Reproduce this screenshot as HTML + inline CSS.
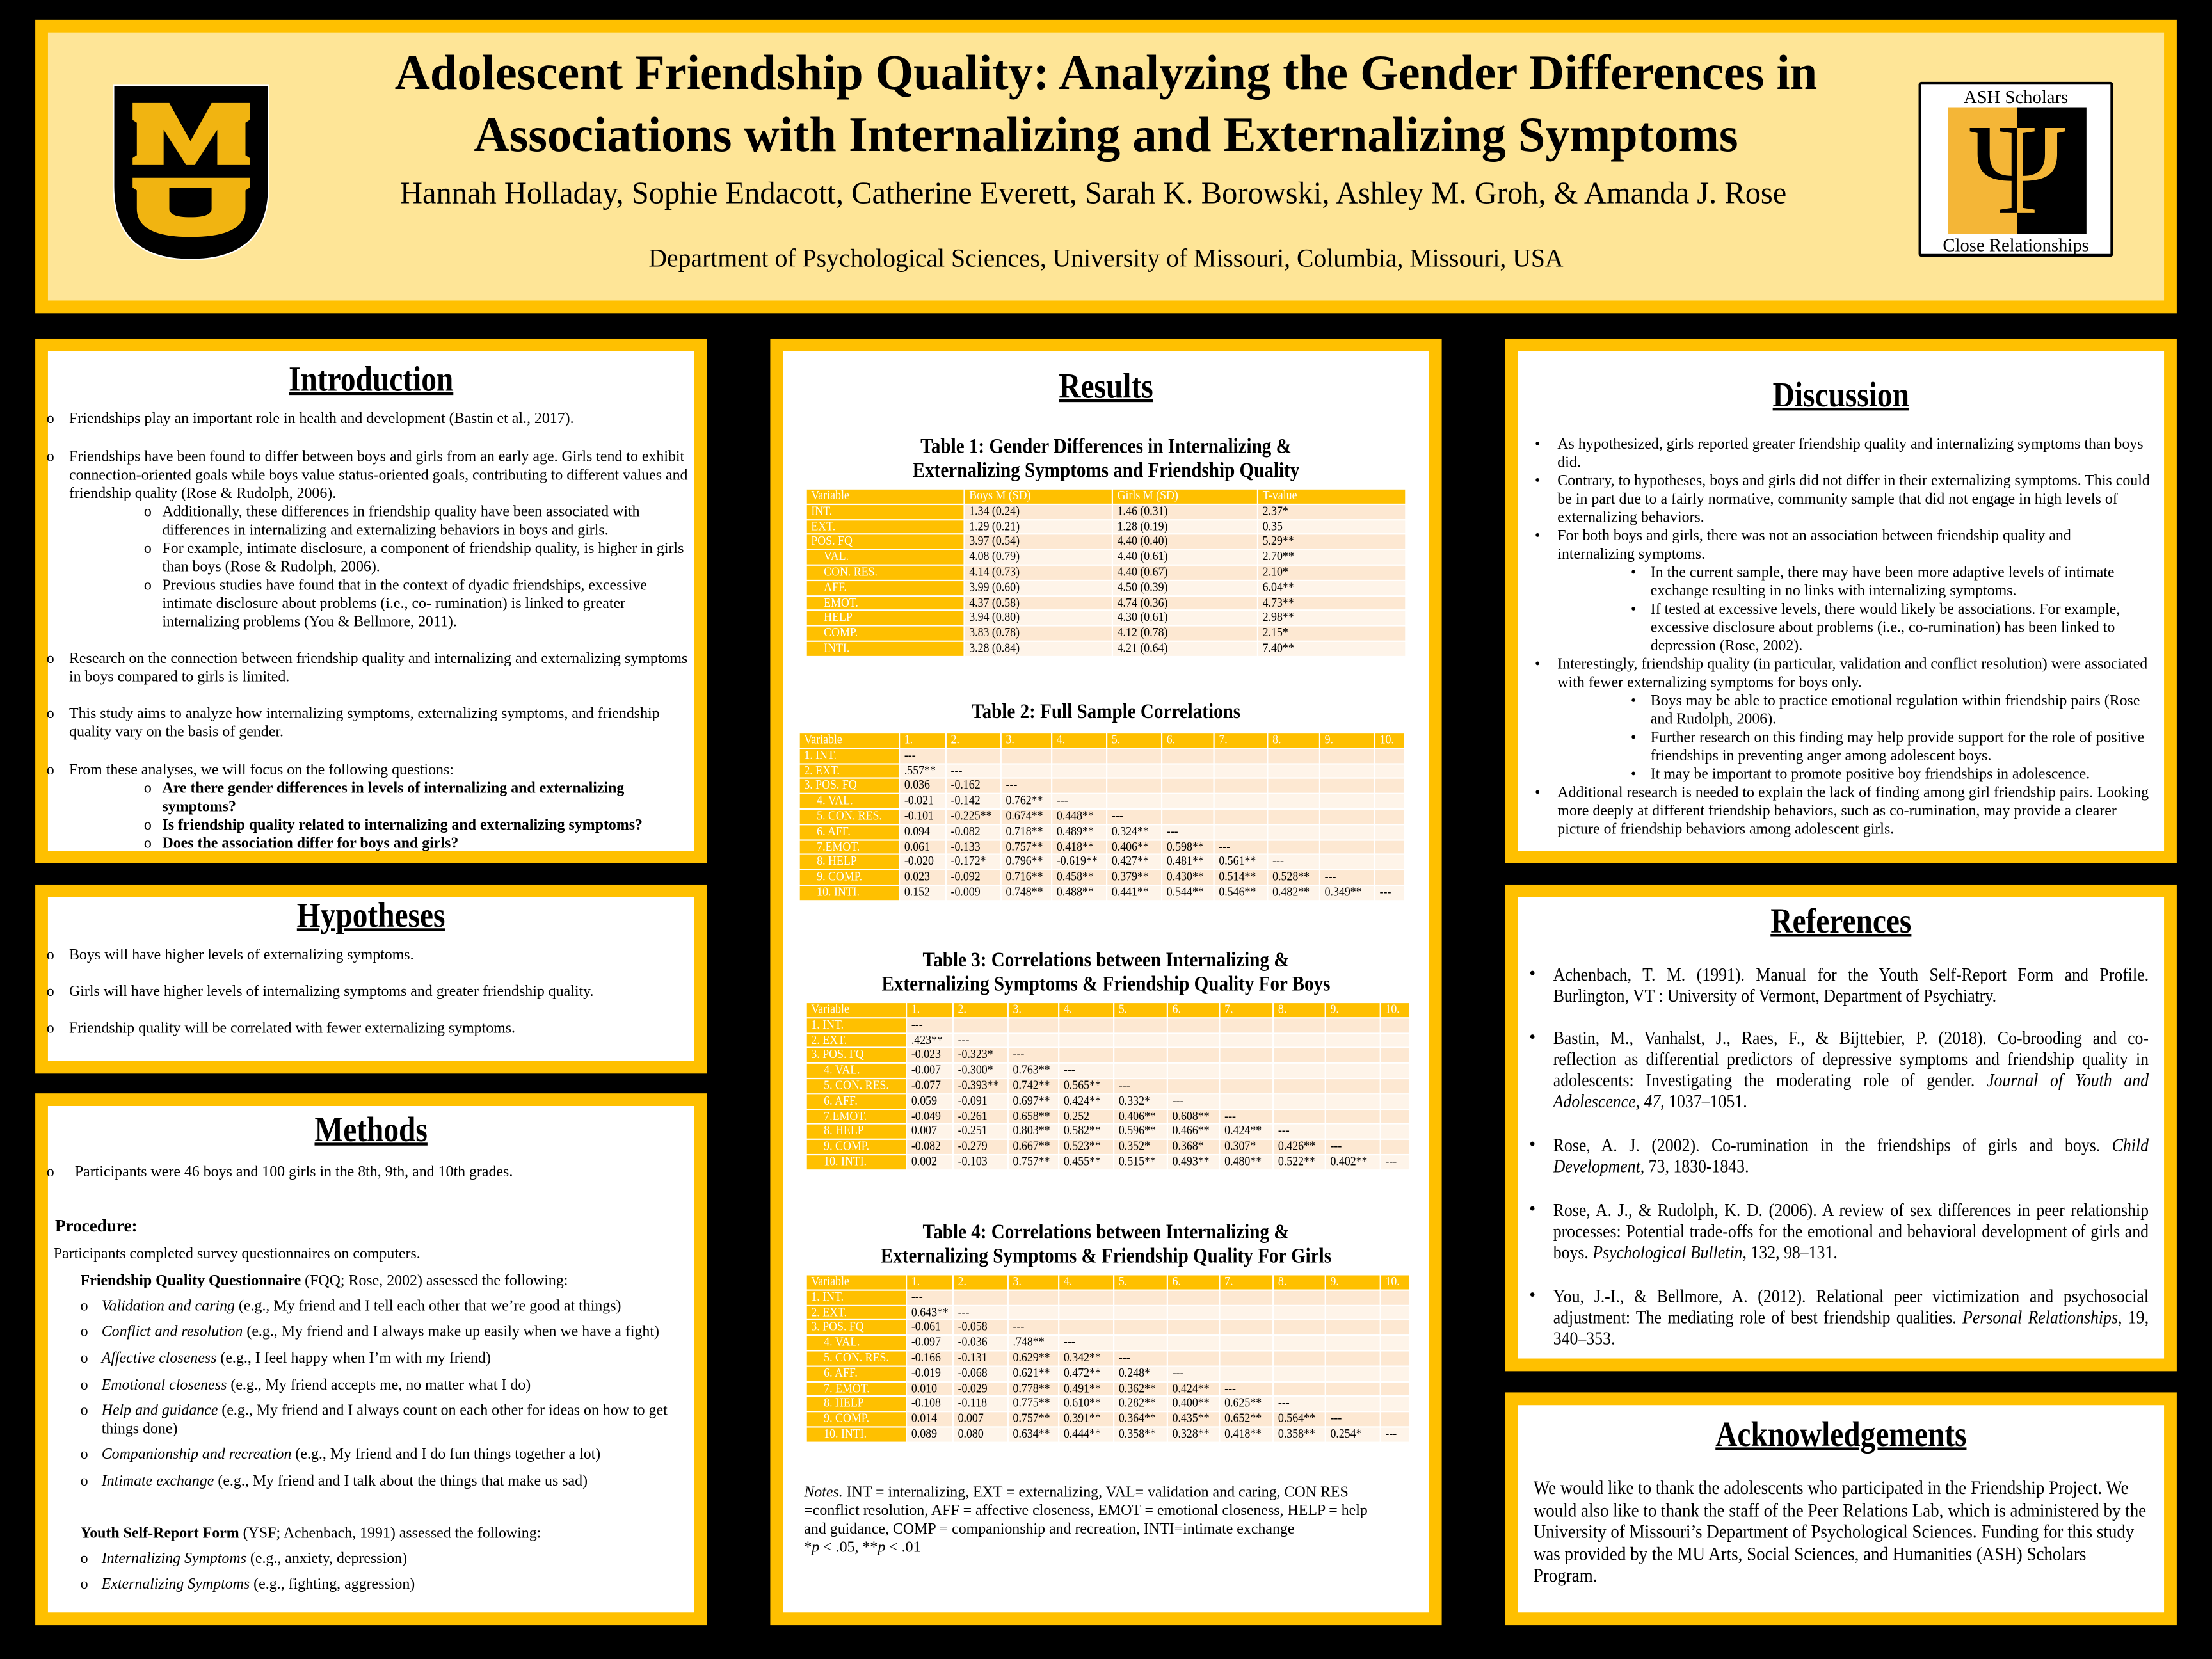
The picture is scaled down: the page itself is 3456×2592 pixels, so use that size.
<!DOCTYPE html>
<html><head><meta charset="utf-8">
<style>
html,body{margin:0;padding:0;background:#000;}
body{width:3456px;height:2592px;overflow:hidden;position:relative;}
#w{position:absolute;left:0;top:0;width:1568px;height:1176px;transform:scale(2.20408);transform-origin:0 0;font-family:"Liberation Serif",serif;color:#000;}
.box{position:absolute;background:#FFC000;}
.in{position:absolute;left:9px;top:9px;right:9px;bottom:9px;background:#fff;}
.l{position:absolute;white-space:nowrap;font-size:11px;line-height:13px;transform:scaleX(.985);transform-origin:0 50%;}
.c{position:absolute;white-space:nowrap;text-align:center;transform-origin:50% 50%;}
.h{font-size:25px;font-weight:bold;text-decoration:underline;text-decoration-thickness:2px;transform:scaleX(.86);line-height:28px;}
.tt{font-size:15px;font-weight:bold;transform:scaleX(.88);line-height:17px;}
table{position:absolute;border-collapse:separate;border-spacing:1px;table-layout:fixed;font-size:9px;}
td{padding:0 0 0 3px;height:9.8px;line-height:9.8px;white-space:nowrap;overflow:hidden;}
td span{display:inline-block;transform:scaleX(.9);transform-origin:0 50%;}
tr.hd td{background:#FFC000;color:#fff;}
td.v{background:#FFC000;color:#fff;}
tr.a td{background:#FDE8D2;}
tr.b td{background:#FEF4E9;}
tr.a td.v,tr.b td.v{background:#FFC000;}
.ind{padding-left:12px;}
.ref{position:absolute;font-size:13px;line-height:15px;text-align:justify;transform:scaleX(.9);transform-origin:0 0;}
</style></head><body><div id="w">

<!-- HEADER -->
<div class="box" style="left:25px;top:14px;width:1518px;height:208px;"><div class="in" style="background:#FEE597;"></div></div>
<svg style="position:absolute;left:80px;top:60px" width="111" height="125" viewBox="0 0 111 125">
<path d="M0.5 0.5 H110.5 V72 Q110.5 124 55.5 124 Q0.5 124 0.5 72 Z" fill="#000" stroke="#fff" stroke-width="1"/>
<path d="M14 13 H40 L55 40 L70 13 H97 V25 L94 27 V50 L97 52 V57 H74 V32 L58 57 H52 L36 32 V57 H14 V52 L17 50 V27 L14 25 Z" fill="#F1B411"/>
<path fill-rule="evenodd" d="M14 66 H97 V73 L94 75 V88 Q94 108 55 108 Q17 108 17 88 V75 L14 73 Z M40 73 V88 Q40 94 55 94 Q70 94 70 88 V73 Z" fill="#F1B411"/>
</svg>
<div class="c" style="left:0;width:1568px;top:32px;font-size:35px;font-weight:bold;line-height:40px;transform:scaleX(.99);">Adolescent Friendship Quality: Analyzing the Gender Differences in</div>
<div class="c" style="left:0;width:1568px;top:76px;font-size:35px;font-weight:bold;line-height:40px;transform:scaleX(.99);">Associations with Internalizing and Externalizing Symptoms</div>
<div class="c" style="left:0;width:1550px;top:124px;font-size:22px;line-height:26px;">Hannah Holladay, Sophie Endacott, Catherine Everett, Sarah K. Borowski, Ashley M. Groh, &amp; Amanda J. Rose</div>
<div class="c" style="left:0;width:1568px;top:172px;font-size:18px;line-height:22px;">Department of Psychological Sciences, University of Missouri, Columbia, Missouri, USA</div>
<!-- ASH logo -->
<div style="position:absolute;left:1360px;top:58px;width:138px;height:124px;background:#fff;border:2px solid #000;border-radius:2px;box-sizing:border-box;">
  <div class="c" style="left:0;width:134px;top:1px;font-size:13px;line-height:15px;">ASH Scholars</div>
  <div style="position:absolute;left:19px;top:16px;width:49px;height:90px;background:#F4B637;overflow:hidden;"><div style="position:absolute;left:0;top:-6px;width:98px;text-align:center;font-size:92px;line-height:100px;color:#000;">Ψ</div></div>
  <div style="position:absolute;left:68px;top:16px;width:49px;height:90px;background:#000;overflow:hidden;"><div style="position:absolute;left:-49px;top:-6px;width:98px;text-align:center;font-size:92px;line-height:100px;color:#F4B637;">Ψ</div></div>
  <div class="c" style="left:0;width:134px;top:106px;font-size:13px;line-height:15px;">Close Relationships</div>
</div>

<!-- LEFT COLUMN -->
<div class="box" style="left:25px;top:240px;width:476px;height:372px;"><div class="in"></div></div>
<div class="box" style="left:25px;top:627px;width:476px;height:134px;"><div class="in"></div></div>
<div class="box" style="left:25px;top:775px;width:476px;height:377px;"><div class="in"></div></div>
<!-- MIDDLE -->
<div class="box" style="left:546px;top:240px;width:476px;height:912px;"><div class="in"></div></div>
<!-- RIGHT -->
<div class="box" style="left:1067px;top:240px;width:476px;height:372px;"><div class="in"></div></div>
<div class="box" style="left:1067px;top:627px;width:476px;height:345px;"><div class="in"></div></div>
<div class="box" style="left:1067px;top:987px;width:476px;height:165px;"><div class="in"></div></div>

<!-- Introduction -->
<div class="c h" style="left:25px;width:476px;top:256px;">Introduction</div>
<div class="l" style="left:33px;top:291px">o</div><div class="l" style="left:49px;top:291px">Friendships play an important role in health and development (Bastin et al., 2017).</div>
<div class="l" style="left:33px;top:318px">o</div>
<div class="l" style="left:49px;top:318px">Friendships have been found to differ between boys and girls from an early age. Girls tend to exhibit</div>
<div class="l" style="left:49px;top:331px">connection-oriented goals while boys value status-oriented goals, contributing to different values and</div>
<div class="l" style="left:49px;top:344px">friendship quality (Rose &amp; Rudolph, 2006).</div>
<div class="l" style="left:102px;top:357px">o</div><div class="l" style="left:115px;top:357px">Additionally, these differences in friendship quality have been associated with</div>
<div class="l" style="left:115px;top:370px">differences in internalizing and externalizing behaviors in boys and girls.</div>
<div class="l" style="left:102px;top:383px">o</div><div class="l" style="left:115px;top:383px">For example, intimate disclosure, a component of friendship quality, is higher in girls</div>
<div class="l" style="left:115px;top:396px">than boys (Rose &amp; Rudolph, 2006).</div>
<div class="l" style="left:102px;top:409px">o</div><div class="l" style="left:115px;top:409px">Previous studies have found that in the context of dyadic friendships, excessive</div>
<div class="l" style="left:115px;top:422px">intimate disclosure about problems (i.e., co- rumination) is linked to greater</div>
<div class="l" style="left:115px;top:435px">internalizing problems (You &amp; Bellmore, 2011).</div>
<div class="l" style="left:33px;top:461px">o</div><div class="l" style="left:49px;top:461px">Research on the connection between friendship quality and internalizing and externalizing symptoms</div>
<div class="l" style="left:49px;top:474px">in boys compared to girls is limited.</div>
<div class="l" style="left:33px;top:500px">o</div><div class="l" style="left:49px;top:500px">This study aims to analyze how internalizing symptoms, externalizing symptoms, and friendship</div>
<div class="l" style="left:49px;top:513px">quality vary on the basis of gender.</div>
<div class="l" style="left:33px;top:540px">o</div><div class="l" style="left:49px;top:540px">From these analyses, we will focus on the following questions:</div>
<div class="l" style="left:102px;top:553px">o</div><div class="l" style="left:115px;top:553px;font-weight:bold">Are there gender differences in levels of internalizing and externalizing</div>
<div class="l" style="left:115px;top:566px;font-weight:bold">symptoms?</div>
<div class="l" style="left:102px;top:579px">o</div><div class="l" style="left:115px;top:579px;font-weight:bold">Is friendship quality related to internalizing and externalizing symptoms?</div>
<div class="l" style="left:102px;top:592px">o</div><div class="l" style="left:115px;top:592px;font-weight:bold">Does the association differ for boys and girls?</div>

<!-- Hypotheses -->
<div class="c h" style="left:25px;width:476px;top:636px;">Hypotheses</div>
<div class="l" style="left:33px;top:671px">o</div><div class="l" style="left:49px;top:671px">Boys will have higher levels of externalizing symptoms.</div>
<div class="l" style="left:33px;top:697px">o</div><div class="l" style="left:49px;top:697px">Girls will have higher levels of internalizing symptoms and greater friendship quality.</div>
<div class="l" style="left:33px;top:723px">o</div><div class="l" style="left:49px;top:723px">Friendship quality will be correlated with fewer externalizing symptoms.</div>

<!-- Methods -->
<div class="c h" style="left:25px;width:476px;top:788px;">Methods</div>
<div class="l" style="left:33px;top:825px">o</div><div class="l" style="left:53px;top:825px">Participants were 46 boys and 100 girls in the 8th, 9th, and 10th grades.</div>
<div class="l" style="left:39px;top:863px;font-weight:bold;font-size:12.5px">Procedure:</div>
<div class="l" style="left:38px;top:883px">Participants completed survey questionnaires on computers.</div>
<div class="l" style="left:57px;top:902px"><b>Friendship Quality Questionnaire</b> (FQQ; Rose, 2002) assessed the following:</div>
<div class="l" style="left:57px;top:920px">o</div><div class="l" style="left:72px;top:920px"><i>Validation and caring</i> (e.g., My friend and I tell each other that we’re good at things)</div>
<div class="l" style="left:57px;top:938px">o</div><div class="l" style="left:72px;top:938px"><i>Conflict and resolution</i> (e.g., My friend and I always make up easily when we have a fight)</div>
<div class="l" style="left:57px;top:957px">o</div><div class="l" style="left:72px;top:957px"><i>Affective closeness</i> (e.g., I feel happy when I’m with my friend)</div>
<div class="l" style="left:57px;top:976px">o</div><div class="l" style="left:72px;top:976px"><i>Emotional closeness</i> (e.g., My friend accepts me, no matter what I do)</div>
<div class="l" style="left:57px;top:994px">o</div><div class="l" style="left:72px;top:994px"><i>Help and guidance</i> (e.g., My friend and I always count on each other for ideas on how to get</div>
<div class="l" style="left:72px;top:1007px">things done)</div>
<div class="l" style="left:57px;top:1025px">o</div><div class="l" style="left:72px;top:1025px"><i>Companionship and recreation</i> (e.g., My friend and I do fun things together a lot)</div>
<div class="l" style="left:57px;top:1044px">o</div><div class="l" style="left:72px;top:1044px"><i>Intimate exchange</i> (e.g., My friend and I talk about the things that make us sad)</div>
<div class="l" style="left:57px;top:1081px"><b>Youth Self-Report Form</b> (YSF; Achenbach, 1991) assessed the following:</div>
<div class="l" style="left:57px;top:1099px">o</div><div class="l" style="left:72px;top:1099px"><i>Internalizing Symptoms</i> (e.g., anxiety, depression)</div>
<div class="l" style="left:57px;top:1117px">o</div><div class="l" style="left:72px;top:1117px"><i>Externalizing Symptoms</i> (e.g., fighting, aggression)</div>

<!-- Results -->
<div class="c h" style="left:546px;width:476px;top:261px;">Results</div>
<div class="c tt" style="left:546px;width:476px;top:309px;">Table 1: Gender Differences in Internalizing &amp;</div>
<div class="c tt" style="left:546px;width:476px;top:326px;">Externalizing Symptoms and Friendship Quality</div>
<table style="left:571px;top:346px;width:426px;">
<colgroup><col style="width:111px"><col style="width:104px"><col style="width:102px"><col style="width:104px"></colgroup>
<tr class="hd"><td><span>Variable</span></td><td><span>Boys M (SD)</span></td><td><span>Girls M (SD)</span></td><td><span>T-value</span></td></tr>
<tr class="a"><td class="v"><span>INT.</span></td><td><span>1.34 (0.24)</span></td><td><span>1.46 (0.31)</span></td><td><span>2.37*</span></td></tr>
<tr class="b"><td class="v"><span>EXT.</span></td><td><span>1.29 (0.21)</span></td><td><span>1.28 (0.19)</span></td><td><span>0.35</span></td></tr>
<tr class="a"><td class="v"><span>POS. FQ</span></td><td><span>3.97 (0.54)</span></td><td><span>4.40 (0.40)</span></td><td><span>5.29**</span></td></tr>
<tr class="b"><td class="v ind"><span>VAL.</span></td><td><span>4.08 (0.79)</span></td><td><span>4.40 (0.61)</span></td><td><span>2.70**</span></td></tr>
<tr class="a"><td class="v ind"><span>CON. RES.</span></td><td><span>4.14 (0.73)</span></td><td><span>4.40 (0.67)</span></td><td><span>2.10*</span></td></tr>
<tr class="b"><td class="v ind"><span>AFF.</span></td><td><span>3.99 (0.60)</span></td><td><span>4.50 (0.39)</span></td><td><span>6.04**</span></td></tr>
<tr class="a"><td class="v ind"><span>EMOT.</span></td><td><span>4.37 (0.58)</span></td><td><span>4.74 (0.36)</span></td><td><span>4.73**</span></td></tr>
<tr class="b"><td class="v ind"><span>HELP</span></td><td><span>3.94 (0.80)</span></td><td><span>4.30 (0.61)</span></td><td><span>2.98**</span></td></tr>
<tr class="a"><td class="v ind"><span>COMP.</span></td><td><span>3.83 (0.78)</span></td><td><span>4.12 (0.78)</span></td><td><span>2.15*</span></td></tr>
<tr class="b"><td class="v ind"><span>INTI.</span></td><td><span>3.28 (0.84)</span></td><td><span>4.21 (0.64)</span></td><td><span>7.40**</span></td></tr>
</table>

<div class="c tt" style="left:546px;width:476px;top:497px;">Table 2: Full Sample Correlations</div>
<table style="left:566px;top:519px;width:430px;">
<colgroup><col style="width:70px"><col style="width:32px"><col style="width:38px"><col style="width:35px"><col style="width:38px"><col style="width:37px"><col style="width:36px"><col style="width:37px"><col style="width:36px"><col style="width:38px"><col style="width:20px"></colgroup>
<tr class="hd"><td><span>Variable</span></td><td><span>1.</span></td><td><span>2.</span></td><td><span>3.</span></td><td><span>4.</span></td><td><span>5.</span></td><td><span>6.</span></td><td><span>7.</span></td><td><span>8.</span></td><td><span>9.</span></td><td><span>10.</span></td></tr>
<tr class="a"><td class="v"><span>1. INT.</span></td><td><span>---</span></td><td></td><td></td><td></td><td></td><td></td><td></td><td></td><td></td><td></td></tr>
<tr class="b"><td class="v"><span>2. EXT.</span></td><td><span>.557**</span></td><td><span>---</span></td><td></td><td></td><td></td><td></td><td></td><td></td><td></td><td></td></tr>
<tr class="a"><td class="v"><span>3. POS. FQ</span></td><td><span>0.036</span></td><td><span>-0.162</span></td><td><span>---</span></td><td></td><td></td><td></td><td></td><td></td><td></td><td></td></tr>
<tr class="b"><td class="v ind"><span>4. VAL.</span></td><td><span>-0.021</span></td><td><span>-0.142</span></td><td><span>0.762**</span></td><td><span>---</span></td><td></td><td></td><td></td><td></td><td></td><td></td></tr>
<tr class="a"><td class="v ind"><span>5. CON. RES.</span></td><td><span>-0.101</span></td><td><span>-0.225**</span></td><td><span>0.674**</span></td><td><span>0.448**</span></td><td><span>---</span></td><td></td><td></td><td></td><td></td><td></td></tr>
<tr class="b"><td class="v ind"><span>6. AFF.</span></td><td><span>0.094</span></td><td><span>-0.082</span></td><td><span>0.718**</span></td><td><span>0.489**</span></td><td><span>0.324**</span></td><td><span>---</span></td><td></td><td></td><td></td><td></td></tr>
<tr class="a"><td class="v ind"><span>7.EMOT.</span></td><td><span>0.061</span></td><td><span>-0.133</span></td><td><span>0.757**</span></td><td><span>0.418**</span></td><td><span>0.406**</span></td><td><span>0.598**</span></td><td><span>---</span></td><td></td><td></td><td></td></tr>
<tr class="b"><td class="v ind"><span>8. HELP</span></td><td><span>-0.020</span></td><td><span>-0.172*</span></td><td><span>0.796**</span></td><td><span>-0.619**</span></td><td><span>0.427**</span></td><td><span>0.481**</span></td><td><span>0.561**</span></td><td><span>---</span></td><td></td><td></td></tr>
<tr class="a"><td class="v ind"><span>9. COMP.</span></td><td><span>0.023</span></td><td><span>-0.092</span></td><td><span>0.716**</span></td><td><span>0.458**</span></td><td><span>0.379**</span></td><td><span>0.430**</span></td><td><span>0.514**</span></td><td><span>0.528**</span></td><td><span>---</span></td><td></td></tr>
<tr class="b"><td class="v ind"><span>10. INTI.</span></td><td><span>0.152</span></td><td><span>-0.009</span></td><td><span>0.748**</span></td><td><span>0.488**</span></td><td><span>0.441**</span></td><td><span>0.544**</span></td><td><span>0.546**</span></td><td><span>0.482**</span></td><td><span>0.349**</span></td><td><span>---</span></td></tr>
</table>

<div class="c tt" style="left:546px;width:476px;top:673px;">Table 3: Correlations between Internalizing &amp;</div>
<div class="c tt" style="left:546px;width:476px;top:690px;">Externalizing Symptoms &amp; Friendship Quality For Boys</div>
<table style="left:571px;top:710px;width:427px;">
<colgroup><col style="width:70px"><col style="width:32px"><col style="width:38px"><col style="width:35px"><col style="width:38px"><col style="width:37px"><col style="width:36px"><col style="width:37px"><col style="width:36px"><col style="width:38px"><col style="width:20px"></colgroup>
<tr class="hd"><td><span>Variable</span></td><td><span>1.</span></td><td><span>2.</span></td><td><span>3.</span></td><td><span>4.</span></td><td><span>5.</span></td><td><span>6.</span></td><td><span>7.</span></td><td><span>8.</span></td><td><span>9.</span></td><td><span>10.</span></td></tr>
<tr class="a"><td class="v"><span>1. INT.</span></td><td><span>---</span></td><td></td><td></td><td></td><td></td><td></td><td></td><td></td><td></td><td></td></tr>
<tr class="b"><td class="v"><span>2. EXT.</span></td><td><span>.423**</span></td><td><span>---</span></td><td></td><td></td><td></td><td></td><td></td><td></td><td></td><td></td></tr>
<tr class="a"><td class="v"><span>3. POS. FQ</span></td><td><span>-0.023</span></td><td><span>-0.323*</span></td><td><span>---</span></td><td></td><td></td><td></td><td></td><td></td><td></td><td></td></tr>
<tr class="b"><td class="v ind"><span>4. VAL.</span></td><td><span>-0.007</span></td><td><span>-0.300*</span></td><td><span>0.763**</span></td><td><span>---</span></td><td></td><td></td><td></td><td></td><td></td><td></td></tr>
<tr class="a"><td class="v ind"><span>5. CON. RES.</span></td><td><span>-0.077</span></td><td><span>-0.393**</span></td><td><span>0.742**</span></td><td><span>0.565**</span></td><td><span>---</span></td><td></td><td></td><td></td><td></td><td></td></tr>
<tr class="b"><td class="v ind"><span>6. AFF.</span></td><td><span>0.059</span></td><td><span>-0.091</span></td><td><span>0.697**</span></td><td><span>0.424**</span></td><td><span>0.332*</span></td><td><span>---</span></td><td></td><td></td><td></td><td></td></tr>
<tr class="a"><td class="v ind"><span>7.EMOT.</span></td><td><span>-0.049</span></td><td><span>-0.261</span></td><td><span>0.658**</span></td><td><span>0.252</span></td><td><span>0.406**</span></td><td><span>0.608**</span></td><td><span>---</span></td><td></td><td></td><td></td></tr>
<tr class="b"><td class="v ind"><span>8. HELP</span></td><td><span>0.007</span></td><td><span>-0.251</span></td><td><span>0.803**</span></td><td><span>0.582**</span></td><td><span>0.596**</span></td><td><span>0.466**</span></td><td><span>0.424**</span></td><td><span>---</span></td><td></td><td></td></tr>
<tr class="a"><td class="v ind"><span>9. COMP.</span></td><td><span>-0.082</span></td><td><span>-0.279</span></td><td><span>0.667**</span></td><td><span>0.523**</span></td><td><span>0.352*</span></td><td><span>0.368*</span></td><td><span>0.307*</span></td><td><span>0.426**</span></td><td><span>---</span></td><td></td></tr>
<tr class="b"><td class="v ind"><span>10. INTI.</span></td><td><span>0.002</span></td><td><span>-0.103</span></td><td><span>0.757**</span></td><td><span>0.455**</span></td><td><span>0.515**</span></td><td><span>0.493**</span></td><td><span>0.480**</span></td><td><span>0.522**</span></td><td><span>0.402**</span></td><td><span>---</span></td></tr>
</table>

<div class="c tt" style="left:546px;width:476px;top:866px;">Table 4: Correlations between Internalizing &amp;</div>
<div class="c tt" style="left:546px;width:476px;top:883px;">Externalizing Symptoms &amp; Friendship Quality For Girls</div>
<table style="left:571px;top:903px;width:427px;">
<colgroup><col style="width:70px"><col style="width:32px"><col style="width:38px"><col style="width:35px"><col style="width:38px"><col style="width:37px"><col style="width:36px"><col style="width:37px"><col style="width:36px"><col style="width:38px"><col style="width:20px"></colgroup>
<tr class="hd"><td><span>Variable</span></td><td><span>1.</span></td><td><span>2.</span></td><td><span>3.</span></td><td><span>4.</span></td><td><span>5.</span></td><td><span>6.</span></td><td><span>7.</span></td><td><span>8.</span></td><td><span>9.</span></td><td><span>10.</span></td></tr>
<tr class="a"><td class="v"><span>1. INT.</span></td><td><span>---</span></td><td></td><td></td><td></td><td></td><td></td><td></td><td></td><td></td><td></td></tr>
<tr class="b"><td class="v"><span>2. EXT.</span></td><td><span>0.643**</span></td><td><span>---</span></td><td></td><td></td><td></td><td></td><td></td><td></td><td></td><td></td></tr>
<tr class="a"><td class="v"><span>3. POS. FQ</span></td><td><span>-0.061</span></td><td><span>-0.058</span></td><td><span>---</span></td><td></td><td></td><td></td><td></td><td></td><td></td><td></td></tr>
<tr class="b"><td class="v ind"><span>4. VAL.</span></td><td><span>-0.097</span></td><td><span>-0.036</span></td><td><span>.748**</span></td><td><span>---</span></td><td></td><td></td><td></td><td></td><td></td><td></td></tr>
<tr class="a"><td class="v ind"><span>5. CON. RES.</span></td><td><span>-0.166</span></td><td><span>-0.131</span></td><td><span>0.629**</span></td><td><span>0.342**</span></td><td><span>---</span></td><td></td><td></td><td></td><td></td><td></td></tr>
<tr class="b"><td class="v ind"><span>6. AFF.</span></td><td><span>-0.019</span></td><td><span>-0.068</span></td><td><span>0.621**</span></td><td><span>0.472**</span></td><td><span>0.248*</span></td><td><span>---</span></td><td></td><td></td><td></td><td></td></tr>
<tr class="a"><td class="v ind"><span>7. EMOT.</span></td><td><span>0.010</span></td><td><span>-0.029</span></td><td><span>0.778**</span></td><td><span>0.491**</span></td><td><span>0.362**</span></td><td><span>0.424**</span></td><td><span>---</span></td><td></td><td></td><td></td></tr>
<tr class="b"><td class="v ind"><span>8. HELP</span></td><td><span>-0.108</span></td><td><span>-0.118</span></td><td><span>0.775**</span></td><td><span>0.610**</span></td><td><span>0.282**</span></td><td><span>0.400**</span></td><td><span>0.625**</span></td><td><span>---</span></td><td></td><td></td></tr>
<tr class="a"><td class="v ind"><span>9. COMP.</span></td><td><span>0.014</span></td><td><span>0.007</span></td><td><span>0.757**</span></td><td><span>0.391**</span></td><td><span>0.364**</span></td><td><span>0.435**</span></td><td><span>0.652**</span></td><td><span>0.564**</span></td><td><span>---</span></td><td></td></tr>
<tr class="b"><td class="v ind"><span>10. INTI.</span></td><td><span>0.089</span></td><td><span>0.080</span></td><td><span>0.634**</span></td><td><span>0.444**</span></td><td><span>0.358**</span></td><td><span>0.328**</span></td><td><span>0.418**</span></td><td><span>0.358**</span></td><td><span>0.254*</span></td><td><span>---</span></td></tr>
</table>

<div class="l" style="left:570px;top:1052px"><i>Notes.</i> INT = internalizing, EXT = externalizing, VAL= validation and caring, CON RES</div>
<div class="l" style="left:570px;top:1065px">=conflict resolution, AFF = affective closeness, EMOT = emotional closeness, HELP = help</div>
<div class="l" style="left:570px;top:1078px">and guidance, COMP = companionship and recreation, INTI=intimate exchange</div>
<div class="l" style="left:570px;top:1091px">*<i>p</i> &lt; .05, **<i>p</i> &lt; .01</div>

<!-- Discussion -->
<div class="c h" style="left:1067px;width:476px;top:267px;">Discussion</div>
<div class="l" style="left:1088px;top:309px">•</div><div class="l" style="left:1104px;top:309px">As hypothesized, girls reported greater friendship quality and internalizing symptoms than boys</div>
<div class="l" style="left:1104px;top:322px">did.</div>
<div class="l" style="left:1088px;top:335px">•</div><div class="l" style="left:1104px;top:335px">Contrary, to hypotheses, boys and girls did not differ in their externalizing symptoms. This could</div>
<div class="l" style="left:1104px;top:348px">be in part due to a fairly normative, community sample that did not engage in high levels of</div>
<div class="l" style="left:1104px;top:361px">externalizing behaviors.</div>
<div class="l" style="left:1088px;top:374px">•</div><div class="l" style="left:1104px;top:374px">For both boys and  girls, there was not an association between friendship quality and</div>
<div class="l" style="left:1104px;top:387px">internalizing symptoms.</div>
<div class="l" style="left:1156px;top:400px">•</div><div class="l" style="left:1170px;top:400px">In the current sample, there may have been more adaptive levels of intimate</div>
<div class="l" style="left:1170px;top:413px">exchange resulting in no links with internalizing symptoms.</div>
<div class="l" style="left:1156px;top:426px">•</div><div class="l" style="left:1170px;top:426px">If tested at excessive levels, there would likely be associations. For example,</div>
<div class="l" style="left:1170px;top:439px">excessive disclosure about problems (i.e., co-rumination) has been linked to</div>
<div class="l" style="left:1170px;top:452px">depression (Rose, 2002).</div>
<div class="l" style="left:1088px;top:465px">•</div><div class="l" style="left:1104px;top:465px">Interestingly, friendship quality (in particular, validation and conflict resolution) were associated</div>
<div class="l" style="left:1104px;top:478px">with fewer externalizing symptoms for boys only.</div>
<div class="l" style="left:1156px;top:491px">•</div><div class="l" style="left:1170px;top:491px">Boys may be able to practice emotional regulation within friendship pairs (Rose</div>
<div class="l" style="left:1170px;top:504px">and Rudolph, 2006).</div>
<div class="l" style="left:1156px;top:517px">•</div><div class="l" style="left:1170px;top:517px">Further research on this finding may help provide support for the role of positive</div>
<div class="l" style="left:1170px;top:530px">friendships in preventing anger among adolescent boys.</div>
<div class="l" style="left:1156px;top:543px">•</div><div class="l" style="left:1170px;top:543px">It may be important to promote positive boy friendships in adolescence.</div>
<div class="l" style="left:1088px;top:556px">•</div><div class="l" style="left:1104px;top:556px">Additional research is needed to explain the lack of finding among girl friendship pairs. Looking</div>
<div class="l" style="left:1104px;top:569px">more deeply at different friendship behaviors, such as co-rumination, may provide a clearer</div>
<div class="l" style="left:1104px;top:582px">picture of friendship behaviors among adolescent girls.</div>

<!-- References -->
<div class="c h" style="left:1067px;width:476px;top:640px;">References</div>
<div class="l" style="left:1084px;top:683px;font-size:13px">•</div>
<div class="ref" style="left:1101px;top:683px;width:469px;">Achenbach, T. M. (1991). Manual for the Youth Self-Report Form and Profile. Burlington, VT : University of Vermont, Department of Psychiatry.</div>
<div class="l" style="left:1084px;top:728px;font-size:13px">•</div>
<div class="ref" style="left:1101px;top:728px;width:469px;"><span style="display:block;text-align-last:justify;">Bastin, M., Vanhalst, J., Raes, F., &amp; Bijttebier, P. (2018). Co-brooding and co-</span>reflection as differential predictors of depressive symptoms and friendship quality in adolescents: Investigating the moderating role of gender. <i>Journal of Youth and Adolescence</i>, <i>47</i>, 1037–1051.</div>
<div class="l" style="left:1084px;top:804px;font-size:13px">•</div>
<div class="ref" style="left:1101px;top:804px;width:469px;">Rose, A. J. (2002). Co-rumination in the friendships of girls and boys. <i>Child Development,</i> 73, 1830-1843.</div>
<div class="l" style="left:1084px;top:850px;font-size:13px">•</div>
<div class="ref" style="left:1101px;top:850px;width:469px;">Rose, A. J., &amp; Rudolph, K. D. (2006). A review of sex differences in peer relationship processes: Potential trade-offs for the emotional and behavioral development of girls and boys. <i>Psychological Bulletin</i>, 132, 98–131.</div>
<div class="l" style="left:1084px;top:911px;font-size:13px">•</div>
<div class="ref" style="left:1101px;top:911px;width:469px;">You, J.-I., &amp; Bellmore, A. (2012). Relational peer victimization and psychosocial adjustment: The mediating role of best friendship qualities. <i>Personal Relationships</i>, 19, 340–353.</div>

<!-- Acknowledgements -->
<div class="c h" style="left:1067px;width:476px;top:1004px;">Acknowledgements</div>
<div class="ref" style="left:1087px;top:1047px;width:487px;line-height:15.5px;font-size:13.6px;text-align:left;">We would like to thank the adolescents who participated in the Friendship Project. We would also like to thank the staff of the Peer Relations Lab, which is administered by the University of Missouri’s Department of Psychological Sciences. Funding for this study was provided by the MU Arts, Social Sciences, and Humanities (ASH) Scholars Program.</div>

</div></body></html>
